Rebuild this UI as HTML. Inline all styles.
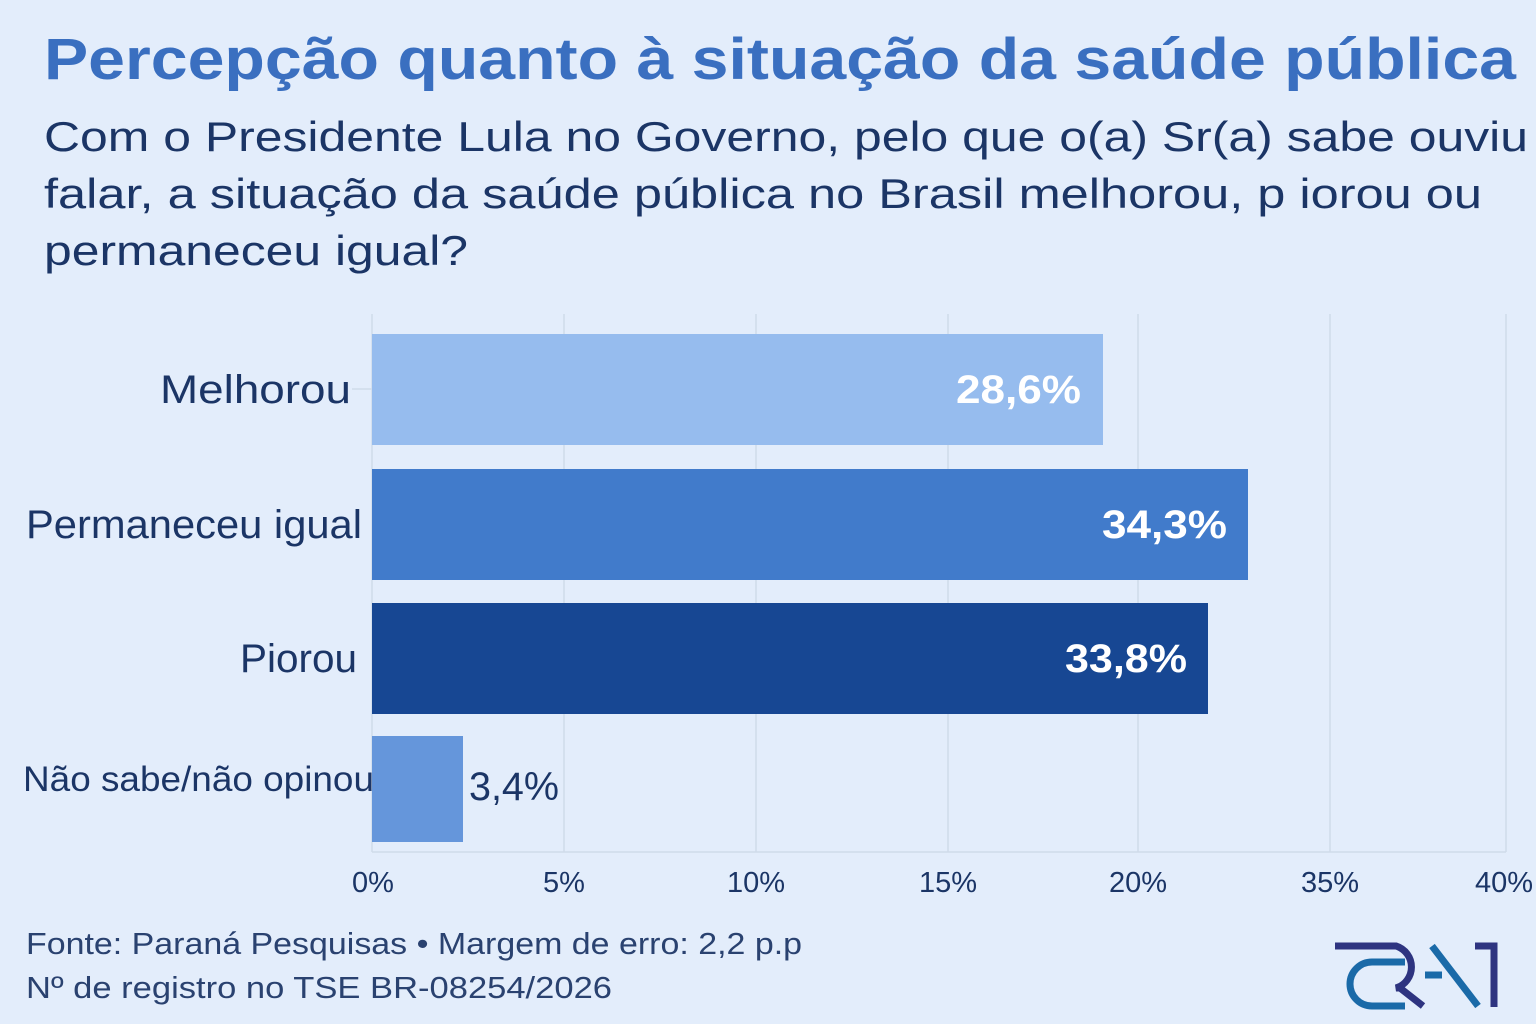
<!DOCTYPE html>
<html><head><meta charset="utf-8"><style>
body{margin:0;background:#e3edfb;}
svg{display:block}
text{font-family:"Liberation Sans","DejaVu Sans",sans-serif}
</style></head><body>
<svg width="1536" height="1024" viewBox="0 0 1536 1024" xmlns="http://www.w3.org/2000/svg">
<rect width="1536" height="1024" fill="#e3edfb"/>
<text x="44" y="79" font-size="58" font-weight="bold" fill="#3a6fc0" textLength="1472" lengthAdjust="spacingAndGlyphs">Percepção quanto à situação da saúde pública</text>
<g font-size="42" fill="#1b3566">
<text x="44" y="151" textLength="1484" lengthAdjust="spacingAndGlyphs">Com o Presidente Lula no Governo, pelo que o(a) Sr(a) sabe ouviu</text>
<text x="44" y="208" textLength="1438" lengthAdjust="spacingAndGlyphs">falar, a situação da saúde pública no Brasil melhorou, p iorou ou</text>
<text x="44" y="265" textLength="424" lengthAdjust="spacingAndGlyphs">permaneceu igual?</text>
</g>
<g stroke="#d0dbea" stroke-width="1.5">
<line x1="564" y1="314" x2="564" y2="852"/><line x1="756" y1="314" x2="756" y2="852"/>
<line x1="948" y1="314" x2="948" y2="852"/><line x1="1138" y1="314" x2="1138" y2="852"/>
<line x1="1330" y1="314" x2="1330" y2="852"/><line x1="1506" y1="314" x2="1506" y2="852"/>
<line x1="372" y1="314" x2="372" y2="852"/><line x1="372" y1="852" x2="1506" y2="852"/>
<line x1="352" y1="389" x2="372" y2="389"/>
</g>
<rect x="372" y="334" width="731" height="111" fill="#96bcee"/>
<rect x="372" y="469" width="876" height="111" fill="#417bcb"/>
<rect x="372" y="603" width="836" height="111" fill="#174793"/>
<rect x="372" y="736" width="91" height="106" fill="#6596db"/>
<g font-size="40" font-weight="bold" fill="#fff">
<text x="956" y="403" textLength="125" lengthAdjust="spacingAndGlyphs">28,6%</text>
<text x="1102" y="538" textLength="125" lengthAdjust="spacingAndGlyphs">34,3%</text>
<text x="1065" y="672" textLength="122" lengthAdjust="spacingAndGlyphs">33,8%</text>
</g>
<text x="469" y="800" font-size="40" fill="#1b3566" textLength="90" lengthAdjust="spacingAndGlyphs">3,4%</text>
<g font-size="40" fill="#1b3566">
<text x="160" y="403" textLength="191" lengthAdjust="spacingAndGlyphs">Melhorou</text>
<text x="26" y="538" textLength="336" lengthAdjust="spacingAndGlyphs">Permaneceu igual</text>
<text x="240" y="672" textLength="117" lengthAdjust="spacingAndGlyphs">Piorou</text>
<text x="23" y="791" font-size="35" textLength="351" lengthAdjust="spacingAndGlyphs">Não sabe/não opinou</text>
</g>
<g font-size="29" fill="#1b3566" text-anchor="middle">
<text x="373" y="892">0%</text><text x="564" y="892">5%</text><text x="756" y="892">10%</text>
<text x="948" y="892">15%</text><text x="1138" y="892">20%</text><text x="1330" y="892">35%</text>
<text x="1504" y="892">40%</text>
</g>
<g font-size="31" fill="#2a4270">
<text x="26" y="954" textLength="776" lengthAdjust="spacingAndGlyphs">Fonte: Paraná Pesquisas • Margem de erro: 2,2 p.p</text>
<text x="26" y="998" textLength="586" lengthAdjust="spacingAndGlyphs">Nº de registro no TSE BR-08254/2026</text>
</g>
<g fill="none" stroke-width="7">
<path d="M1335 946 H1396 A22 22 0 0 1 1396 988 H1400 L1423 1006" stroke="#2e3480"/>
<path d="M1405 962 H1372 A22 22 0 0 0 1372 1006 H1405" stroke="#1a6aa8"/>
<path d="M1425 975 H1442" stroke="#1a6aa8"/>
<path d="M1432 946 L1478 1006" stroke="#1a6aa8"/>
<path d="M1475 946 H1494 V1007" stroke="#2e3480"/>
</g>
</svg>
</body></html>
